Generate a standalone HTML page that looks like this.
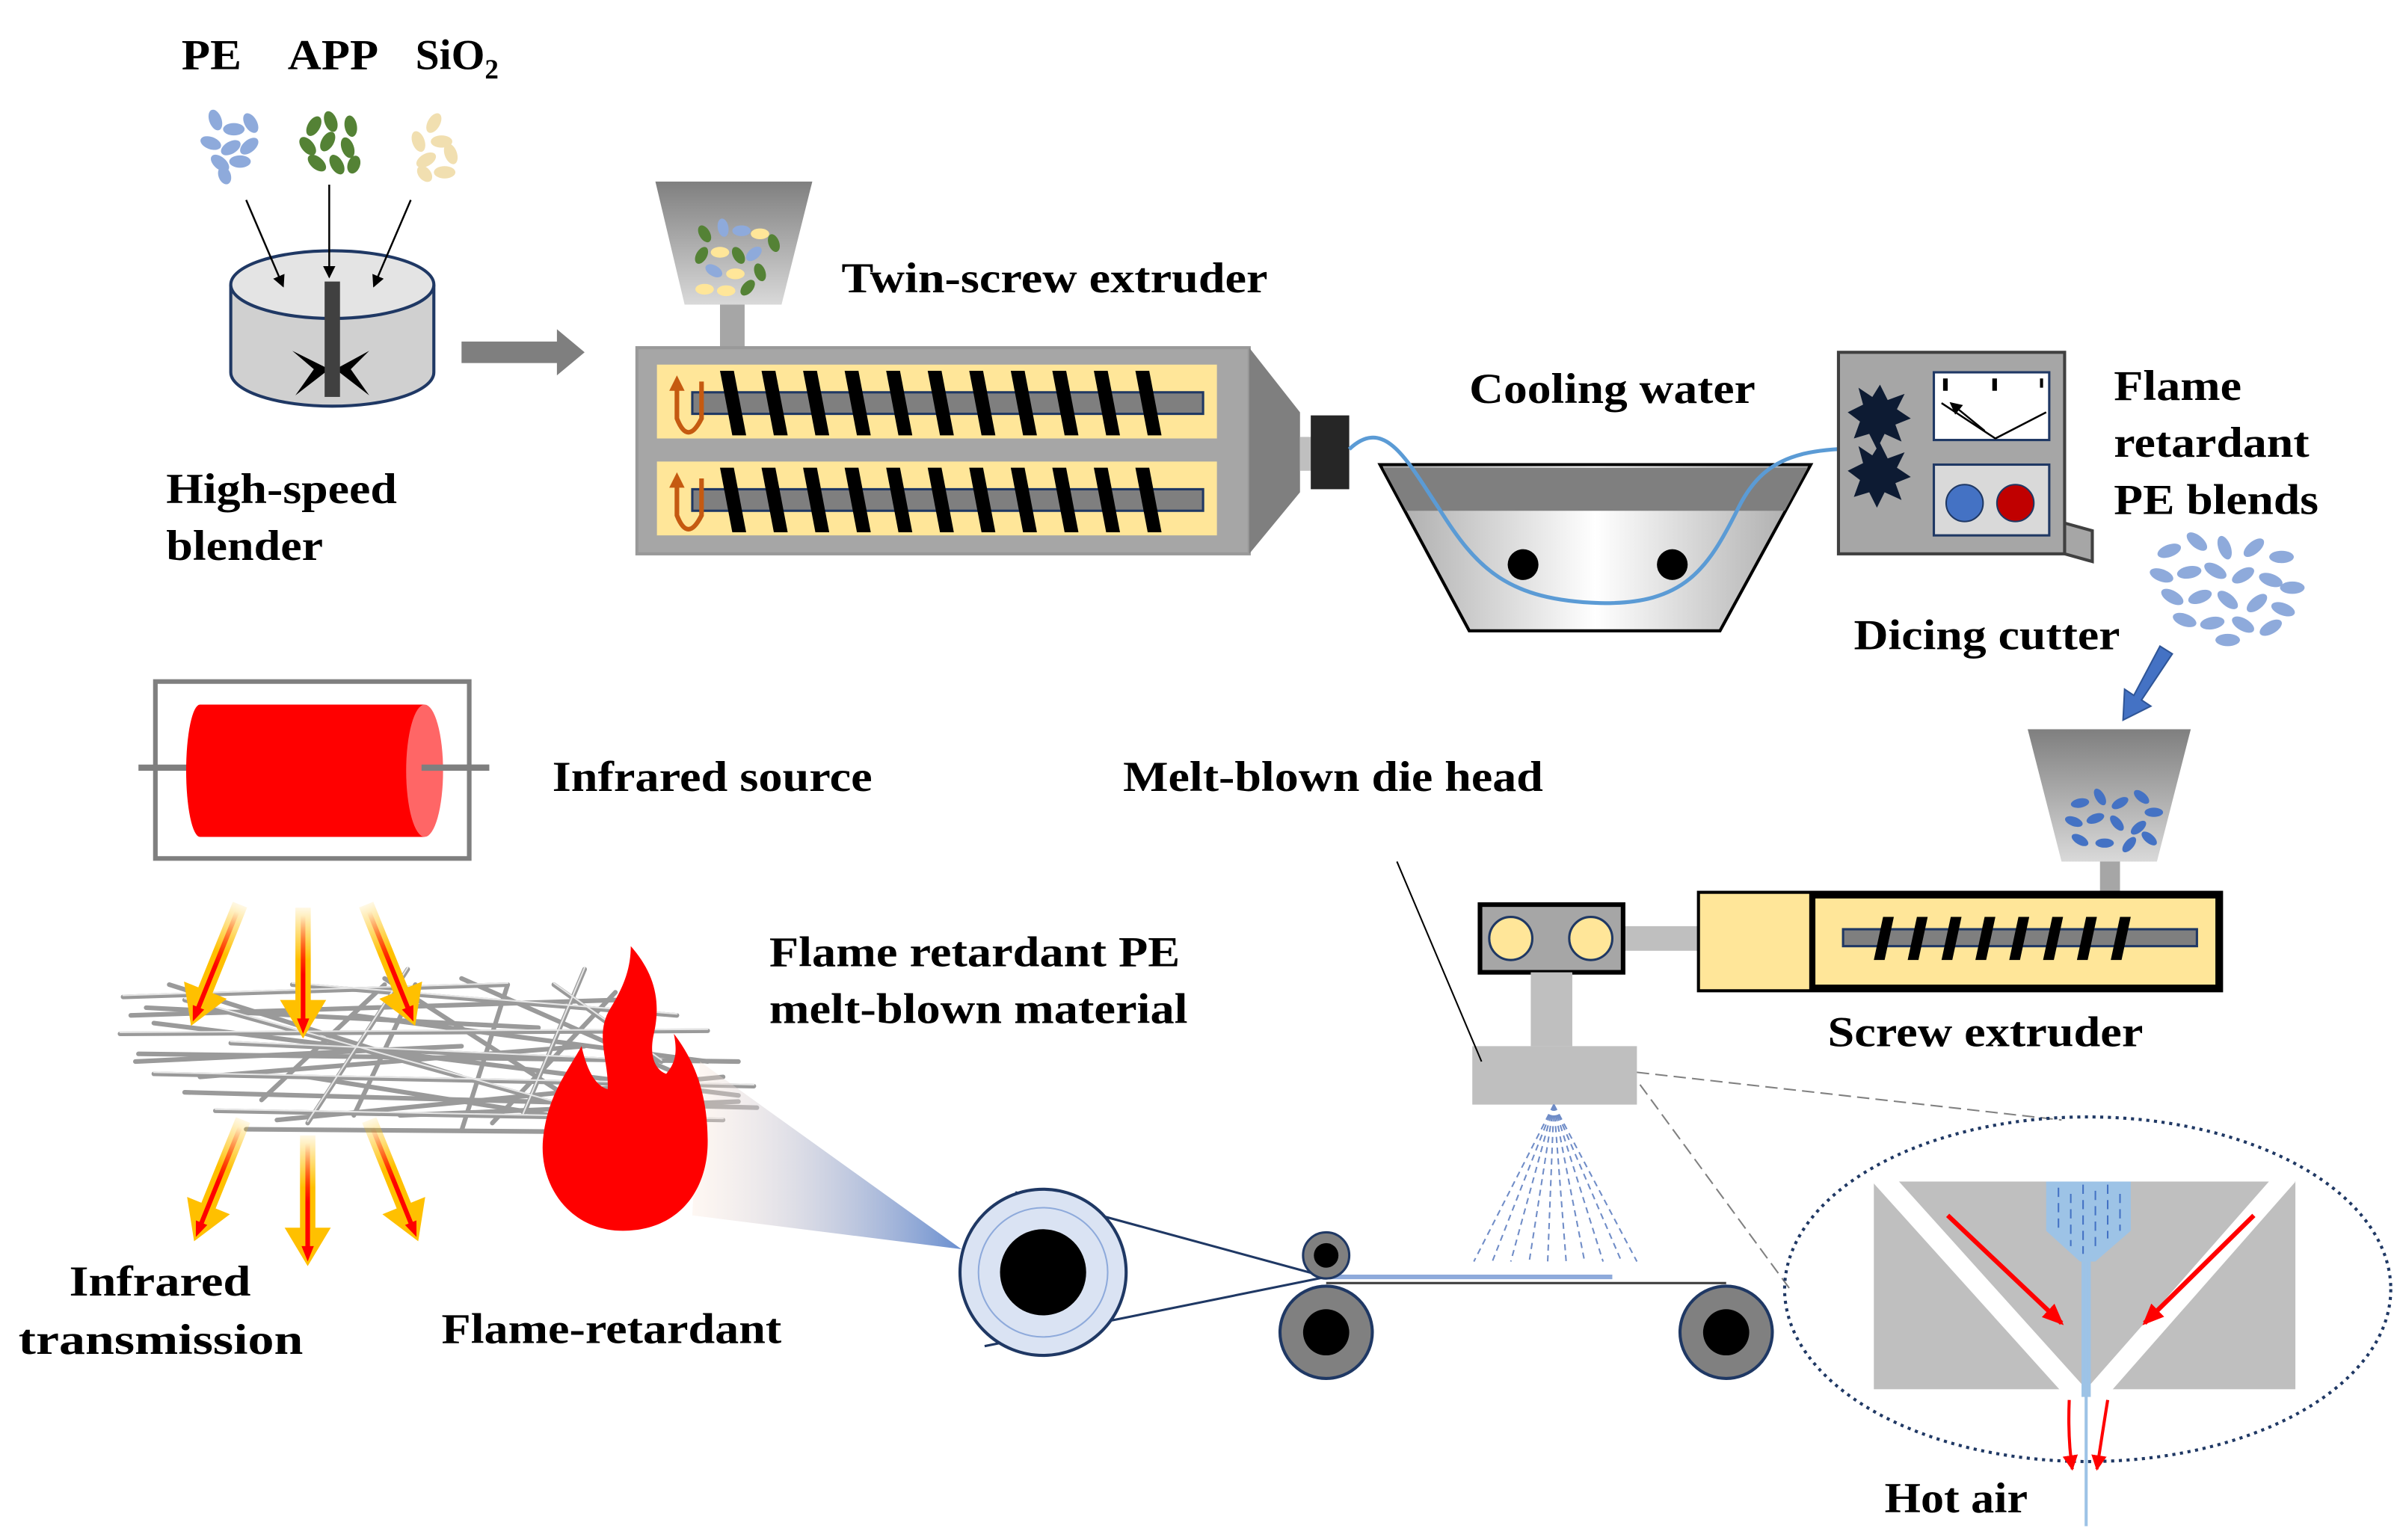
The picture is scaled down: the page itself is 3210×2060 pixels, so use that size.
<!DOCTYPE html>
<html><head><meta charset="utf-8"><style>
html,body{margin:0;padding:0;background:#fff;}
svg{display:block;}
text{font-family:"Liberation Serif",serif;font-weight:bold;fill:#000;}
</style></head><body>
<svg width="3210" height="2060" viewBox="0 0 1560 1001" preserveAspectRatio="none" xmlns="http://www.w3.org/2000/svg">
<defs>
<linearGradient id="hop" x1="0" y1="0" x2="0" y2="1"><stop offset="0" stop-color="#7f7f7f"/><stop offset="1" stop-color="#d9d9d9"/></linearGradient>
<linearGradient id="basin" x1="0" y1="0" x2="1" y2="0"><stop offset="0" stop-color="#a6a6a6"/><stop offset="0.5" stop-color="#ffffff"/><stop offset="1" stop-color="#a6a6a6"/></linearGradient>
<linearGradient id="beam" x1="0" y1="0" x2="1" y2="0"><stop offset="0" stop-color="#fbe5d6" stop-opacity="0.3"/><stop offset="1" stop-color="#6a8fd0"/></linearGradient>
<linearGradient id="ira" x1="0" y1="0" x2="0" y2="1"><stop offset="0" stop-color="#ffc000" stop-opacity="0.1"/><stop offset="0.4" stop-color="#ffc000"/><stop offset="1" stop-color="#ffc000"/></linearGradient>
<linearGradient id="irr" x1="0" y1="0" x2="0" y2="1"><stop offset="0" stop-color="#ff0000" stop-opacity="0"/><stop offset="0.5" stop-color="#ff0000"/></linearGradient>
<marker id="ah" markerWidth="8" markerHeight="8" refX="7" refY="4" orient="auto" markerUnits="userSpaceOnUse"><path d="M0,0 L8,4 L0,8z" fill="#000"/></marker>
<marker id="rh" markerWidth="14" markerHeight="12" refX="12" refY="6" orient="auto" markerUnits="userSpaceOnUse"><path d="M0,0 L14,6 L0,12z" fill="#f00"/></marker>
<marker id="rh2" markerWidth="10" markerHeight="10" refX="9" refY="5" orient="auto" markerUnits="userSpaceOnUse"><path d="M0,0 L10,5 L0,10z" fill="#f00"/></marker>
<path id="blade" d="M0,0 L9,0 L17,42 L8,42z" fill="#000"/>
<path id="sblade" d="M6,0 L13,0 L7,28 L0,28z" fill="#000"/>
<g id="irarrow">
<path d="M-5,0 L5,0 L5,60 L15,60 L0,85 L-15,60 L-5,60z" fill="url(#ira)"/>
<path d="M-1.5,5 L1.5,5 L1.5,72 L4,72 L0,82 L-4,72 L-1.5,72z" fill="url(#irr)"/>
</g>
</defs>

<!-- top labels -->
<text x="118" y="45" font-size="28" textLength="39" lengthAdjust="spacingAndGlyphs">PE</text>
<text x="187" y="45" font-size="28" textLength="59" lengthAdjust="spacingAndGlyphs">APP</text>
<text x="270" y="45" font-size="28">SiO<tspan font-size="18" dy="6">2</tspan></text>

<!-- granules -->
<g fill="#8eaadb">
<ellipse cx="140" cy="78" rx="7" ry="4" transform="rotate(70 140 78)"/><ellipse cx="152" cy="84" rx="7" ry="4"/><ellipse cx="163" cy="80" rx="7" ry="4" transform="rotate(60 163 80)"/><ellipse cx="137" cy="93" rx="7" ry="4" transform="rotate(20 137 93)"/><ellipse cx="150" cy="96" rx="7" ry="4" transform="rotate(-30 150 96)"/><ellipse cx="162" cy="95" rx="7" ry="4" transform="rotate(-40 162 95)"/><ellipse cx="143" cy="106" rx="7" ry="4" transform="rotate(40 143 106)"/><ellipse cx="156" cy="105" rx="7" ry="4"/><ellipse cx="146" cy="114" rx="6" ry="4" transform="rotate(70 146 114)"/>
</g>
<g fill="#548235">
<ellipse cx="204" cy="82" rx="7" ry="4" transform="rotate(-60 204 82)"/><ellipse cx="215" cy="79" rx="7" ry="4" transform="rotate(70 215 79)"/><ellipse cx="228" cy="82" rx="7" ry="4" transform="rotate(80 228 82)"/><ellipse cx="200" cy="95" rx="7" ry="4" transform="rotate(50 200 95)"/><ellipse cx="213" cy="92" rx="7" ry="4" transform="rotate(-60 213 92)"/><ellipse cx="226" cy="96" rx="7" ry="4" transform="rotate(70 226 96)"/><ellipse cx="206" cy="106" rx="7" ry="4" transform="rotate(40 206 106)"/><ellipse cx="219" cy="107" rx="7" ry="4" transform="rotate(60 219 107)"/><ellipse cx="230" cy="107" rx="6" ry="4" transform="rotate(-70 230 107)"/>
</g>
<g fill="#f1dfb0">
<ellipse cx="282" cy="80" rx="7" ry="4" transform="rotate(-60 282 80)"/><ellipse cx="272" cy="92" rx="7" ry="4" transform="rotate(70 272 92)"/><ellipse cx="287" cy="92" rx="7" ry="4"/><ellipse cx="293" cy="100" rx="7" ry="4" transform="rotate(70 293 100)"/><ellipse cx="277" cy="104" rx="7" ry="4" transform="rotate(-30 277 104)"/><ellipse cx="289" cy="112" rx="7" ry="4"/><ellipse cx="276" cy="113" rx="6" ry="4" transform="rotate(50 276 113)"/>
</g>

<!-- blender -->
<path d="M150,185 L150,242 A66,22 0 0 0 282,242 L282,185" fill="#d0d0d0" stroke="#1f3864" stroke-width="2"/>
<ellipse cx="216" cy="185" rx="66" ry="22" fill="#e4e4e4" stroke="#1f3864" stroke-width="2"/>
<path d="M190,228 L214,240 L192,257 L204,240z M240,228 L218,240 L240,257 L228,240z" fill="#000"/>
<rect x="211" y="183" width="10" height="75" fill="#404040"/>
<!-- blender arrows -->
<line x1="160" y1="130" x2="184" y2="186" stroke="#000" stroke-width="1.2" marker-end="url(#ah)"/>
<line x1="214" y1="120" x2="214" y2="180" stroke="#000" stroke-width="1.2" marker-end="url(#ah)"/>
<line x1="267" y1="130" x2="243" y2="186" stroke="#000" stroke-width="1.2" marker-end="url(#ah)"/>
<text x="108" y="327" font-size="28" textLength="150" lengthAdjust="spacingAndGlyphs">High-speed</text>
<text x="108" y="364" font-size="28" textLength="102" lengthAdjust="spacingAndGlyphs">blender</text>

<!-- gray arrow -->
<path d="M300,222 L362,222 L362,214 L380,229 L362,244 L362,236 L300,236z" fill="#7f7f7f"/>

<!-- hopper 1 -->
<path d="M426,118 L528,118 L508,198 L445,198z" fill="url(#hop)"/>
<rect x="468" y="198" width="16" height="28" fill="#a6a6a6"/>
<g>
<ellipse cx="458" cy="152" rx="6" ry="3.5" fill="#548235" transform="rotate(60 458 152)"/><ellipse cx="470" cy="148" rx="6" ry="3.5" fill="#8eaadb" transform="rotate(80 470 148)"/><ellipse cx="482" cy="150" rx="6" ry="3.5" fill="#8eaadb"/><ellipse cx="494" cy="152" rx="6" ry="3.5" fill="#ffe699"/><ellipse cx="503" cy="158" rx="6" ry="3.5" fill="#548235" transform="rotate(70 503 158)"/><ellipse cx="456" cy="166" rx="6" ry="3.5" fill="#548235" transform="rotate(-60 456 166)"/><ellipse cx="468" cy="164" rx="6" ry="3.5" fill="#ffe699"/><ellipse cx="480" cy="166" rx="6" ry="3.5" fill="#548235" transform="rotate(60 480 166)"/><ellipse cx="490" cy="165" rx="6" ry="3.5" fill="#8eaadb" transform="rotate(-40 490 165)"/><ellipse cx="464" cy="176" rx="6" ry="3.5" fill="#8eaadb" transform="rotate(30 464 176)"/><ellipse cx="478" cy="178" rx="6" ry="3.5" fill="#ffe699"/><ellipse cx="494" cy="177" rx="6" ry="3.5" fill="#548235" transform="rotate(70 494 177)"/><ellipse cx="458" cy="188" rx="6" ry="3.5" fill="#ffe699"/><ellipse cx="472" cy="189" rx="6" ry="3.5" fill="#ffe699"/><ellipse cx="486" cy="187" rx="6" ry="3.5" fill="#548235" transform="rotate(-50 486 187)"/>
</g>
<text x="547" y="190" font-size="28" textLength="277" lengthAdjust="spacingAndGlyphs">Twin-screw extruder</text>

<!-- extruder -->
<rect x="414" y="226" width="398" height="134" fill="#a6a6a6" stroke="#999" stroke-width="2"/>
<path d="M812,226 L845,268 L845,320 L812,360z" fill="#7f7f7f"/>
<rect x="845" y="284" width="10" height="22" fill="#bfbfbf"/>
<rect x="852" y="270" width="25" height="48" fill="#262626"/>
<rect x="427" y="237" width="364" height="48" fill="#ffe699"/>
<rect x="427" y="300" width="364" height="48" fill="#ffe699"/>
<rect x="450" y="255" width="332" height="14" fill="#7f7f7f" stroke="#1f3864" stroke-width="1.5"/>
<rect x="450" y="318" width="332" height="14" fill="#7f7f7f" stroke="#1f3864" stroke-width="1.5"/>
<g>
<use href="#blade" x="468" y="241"/><use href="#blade" x="495" y="241"/><use href="#blade" x="522" y="241"/><use href="#blade" x="549" y="241"/><use href="#blade" x="576" y="241"/><use href="#blade" x="603" y="241"/><use href="#blade" x="630" y="241"/><use href="#blade" x="657" y="241"/><use href="#blade" x="684" y="241"/><use href="#blade" x="711" y="241"/><use href="#blade" x="738" y="241"/>
<use href="#blade" x="468" y="304"/><use href="#blade" x="495" y="304"/><use href="#blade" x="522" y="304"/><use href="#blade" x="549" y="304"/><use href="#blade" x="576" y="304"/><use href="#blade" x="603" y="304"/><use href="#blade" x="630" y="304"/><use href="#blade" x="657" y="304"/><use href="#blade" x="684" y="304"/><use href="#blade" x="711" y="304"/><use href="#blade" x="738" y="304"/>
</g>
<path d="M440,250 L440,272 Q447,290 456,272 L456,248" fill="none" stroke="#c55a11" stroke-width="3"/>
<path d="M435,254 L440,244 L445,254z" fill="#c55a11"/>
<path d="M440,313 L440,335 Q447,353 456,335 L456,311" fill="none" stroke="#c55a11" stroke-width="3"/>
<path d="M435,317 L440,307 L445,317z" fill="#c55a11"/>

<!-- cooling basin -->
<path d="M897,302 L1177,302 L1118,410 L955,410z" fill="url(#basin)" stroke="#000" stroke-width="2"/>
<path d="M899,304 L1175,304 L1160,332 L914,332z" fill="#7f7f7f"/>
<circle cx="990" cy="367" r="10" fill="#000"/>
<circle cx="1087" cy="367" r="10" fill="#000"/>
<path d="M877,292 C900,270 915,300 935,330 C960,370 980,390 1040,392 C1095,393 1110,370 1130,330 C1150,290 1180,290 1250,292" fill="none" stroke="#5b9bd5" stroke-width="2.5"/>
<text x="955" y="262" font-size="28" textLength="186" lengthAdjust="spacingAndGlyphs">Cooling water</text>

<!-- dicing cutter -->
<path d="M1342,340 L1360,345 L1360,365 L1342,360z" fill="#a6a6a6" stroke="#404040" stroke-width="2"/>
<rect x="1195" y="229" width="147" height="131" fill="#a6a6a6" stroke="#404040" stroke-width="2"/>
<rect x="1257" y="242" width="75" height="44" fill="#fff" stroke="#1f3864" stroke-width="1.5"/>
<path d="M1262,262 L1297,285 L1330,268" fill="none" stroke="#000" stroke-width="1.2"/>
<line x1="1290" y1="280" x2="1268" y2="262" stroke="#000" stroke-width="1.2" marker-end="url(#ah)"/>
<rect x="1263" y="246" width="3" height="8" fill="#000"/><rect x="1295" y="246" width="3" height="8" fill="#000"/><rect x="1326" y="246" width="2" height="6" fill="#000"/>
<rect x="1257" y="302" width="75" height="46" fill="#d9d9d9" stroke="#1f3864" stroke-width="1.5"/>
<circle cx="1277" cy="327" r="12" fill="#4472c4" stroke="#1f3864"/>
<circle cx="1310" cy="327" r="12" fill="#c00000" stroke="#1f3864"/>
<path d="M1222,250 L1227,260 L1238,256 L1233,266 L1242,272 L1232,276 L1236,287 L1225,282 L1220,292 L1215,282 L1205,285 L1209,274 L1201,268 L1211,263 L1208,252 L1217,258z" fill="#0d1b33"/>
<path d="M1222,288 L1227,298 L1238,294 L1233,304 L1242,310 L1232,314 L1236,325 L1225,320 L1220,330 L1215,320 L1205,323 L1209,312 L1201,306 L1211,301 L1208,290 L1217,296z" fill="#0d1b33"/>
<text x="1374" y="260" font-size="28" textLength="83" lengthAdjust="spacingAndGlyphs">Flame</text>
<text x="1374" y="297" font-size="28" textLength="127" lengthAdjust="spacingAndGlyphs">retardant</text>
<text x="1374" y="334" font-size="28" textLength="133" lengthAdjust="spacingAndGlyphs">PE blends</text>
<text x="1205" y="422" font-size="28" textLength="173" lengthAdjust="spacingAndGlyphs">Dicing cutter</text>

<!-- blue granules -->
<g fill="#8eaadb">
<ellipse cx="1410" cy="358" rx="8" ry="4" transform="rotate(-20 1410 358)"/><ellipse cx="1428" cy="352" rx="8" ry="4" transform="rotate(40 1428 352)"/><ellipse cx="1446" cy="356" rx="8" ry="4" transform="rotate(70 1446 356)"/><ellipse cx="1465" cy="356" rx="8" ry="4" transform="rotate(-40 1465 356)"/><ellipse cx="1483" cy="362" rx="8" ry="4"/><ellipse cx="1405" cy="374" rx="8" ry="4" transform="rotate(20 1405 374)"/><ellipse cx="1423" cy="372" rx="8" ry="4" transform="rotate(-10 1423 372)"/><ellipse cx="1440" cy="371" rx="8" ry="4" transform="rotate(30 1440 371)"/><ellipse cx="1458" cy="374" rx="8" ry="4" transform="rotate(-30 1458 374)"/><ellipse cx="1476" cy="377" rx="8" ry="4" transform="rotate(20 1476 377)"/><ellipse cx="1490" cy="382" rx="8" ry="4"/><ellipse cx="1412" cy="388" rx="8" ry="4" transform="rotate(30 1412 388)"/><ellipse cx="1430" cy="388" rx="8" ry="4" transform="rotate(-20 1430 388)"/><ellipse cx="1448" cy="390" rx="8" ry="4" transform="rotate(40 1448 390)"/><ellipse cx="1467" cy="392" rx="8" ry="4" transform="rotate(-40 1467 392)"/><ellipse cx="1484" cy="396" rx="8" ry="4" transform="rotate(20 1484 396)"/><ellipse cx="1420" cy="403" rx="8" ry="4" transform="rotate(20 1420 403)"/><ellipse cx="1438" cy="405" rx="8" ry="4" transform="rotate(-10 1438 405)"/><ellipse cx="1458" cy="406" rx="8" ry="4" transform="rotate(30 1458 406)"/><ellipse cx="1476" cy="408" rx="8" ry="4" transform="rotate(-30 1476 408)"/><ellipse cx="1448" cy="416" rx="8" ry="4"/>
</g>
<path d="M1404,420 L1412,425 L1392,455 L1398,459 L1380,468 L1381,448 L1387,452z" fill="#4472c4" stroke="#2f5597" stroke-width="1"/>

<!-- hopper 2 -->
<path d="M1318,474 L1424,474 L1402,560 L1340,560z" fill="url(#hop)"/>
<rect x="1365" y="560" width="13" height="20" fill="#a6a6a6"/>
<g fill="#4472c4">
<ellipse cx="1352" cy="522" rx="6" ry="3" transform="rotate(-10 1352 522)"/><ellipse cx="1365" cy="518" rx="6" ry="3" transform="rotate(60 1365 518)"/><ellipse cx="1378" cy="522" rx="6" ry="3" transform="rotate(-30 1378 522)"/><ellipse cx="1392" cy="518" rx="6" ry="3" transform="rotate(40 1392 518)"/><ellipse cx="1400" cy="528" rx="6" ry="3"/><ellipse cx="1348" cy="534" rx="6" ry="3" transform="rotate(20 1348 534)"/><ellipse cx="1362" cy="532" rx="6" ry="3" transform="rotate(-20 1362 532)"/><ellipse cx="1376" cy="535" rx="6" ry="3" transform="rotate(50 1376 535)"/><ellipse cx="1390" cy="538" rx="6" ry="3" transform="rotate(-40 1390 538)"/><ellipse cx="1352" cy="546" rx="6" ry="3" transform="rotate(30 1352 546)"/><ellipse cx="1368" cy="548" rx="6" ry="3"/><ellipse cx="1384" cy="549" rx="6" ry="3" transform="rotate(-50 1384 549)"/><ellipse cx="1397" cy="545" rx="6" ry="3" transform="rotate(40 1397 545)"/>
</g>

<!-- screw extruder -->
<rect x="1055" y="602" width="50" height="16" fill="#bfbfbf"/>
<rect x="1104" y="580" width="340" height="64" fill="#ffe699" stroke="#000" stroke-width="2"/>
<rect x="1178" y="582" width="264" height="60" fill="#ffe699" stroke="#000" stroke-width="4"/>
<rect x="1198" y="604" width="230" height="11" fill="#7f7f7f" stroke="#1f3864" stroke-width="1.5"/>
<g>
<use href="#sblade" x="1218" y="596"/><use href="#sblade" x="1240" y="596"/><use href="#sblade" x="1262" y="596"/><use href="#sblade" x="1284" y="596"/><use href="#sblade" x="1306" y="596"/><use href="#sblade" x="1328" y="596"/><use href="#sblade" x="1350" y="596"/><use href="#sblade" x="1372" y="596"/>
</g>
<text x="1188" y="680" font-size="28" textLength="205" lengthAdjust="spacingAndGlyphs">Screw extruder</text>

<!-- die -->
<rect x="962" y="588" width="93" height="44" fill="#a6a6a6" stroke="#000" stroke-width="3"/>
<circle cx="982" cy="610" r="14" fill="#ffe699" stroke="#1f3864" stroke-width="1.5"/>
<circle cx="1034" cy="610" r="14" fill="#ffe699" stroke="#1f3864" stroke-width="1.5"/>
<rect x="995" y="632" width="27" height="48" fill="#bfbfbf"/>
<rect x="957" y="680" width="107" height="38" fill="#bfbfbf"/>
<line x1="908" y1="560" x2="963" y2="690" stroke="#000" stroke-width="1"/>
<text x="730" y="514" font-size="28" textLength="273" lengthAdjust="spacingAndGlyphs">Melt-blown die head</text>

<!-- spray -->
<g stroke="#6f8cc7" stroke-width="1" stroke-dasharray="4,3" fill="none">
<line x1="1010" y1="718" x2="958" y2="820"/><line x1="1010" y1="718" x2="970" y2="820"/><line x1="1010" y1="718" x2="982" y2="820"/><line x1="1010" y1="718" x2="994" y2="820"/><line x1="1010" y1="718" x2="1006" y2="820"/><line x1="1010" y1="718" x2="1018" y2="820"/><line x1="1010" y1="718" x2="1030" y2="820"/><line x1="1010" y1="718" x2="1042" y2="820"/><line x1="1010" y1="718" x2="1054" y2="820"/><line x1="1010" y1="718" x2="1064" y2="820"/>
</g>

<!-- dashed zoom lines -->
<line x1="1064" y1="697" x2="1340" y2="728" stroke="#808080" stroke-width="1" stroke-dasharray="8,4"/>
<line x1="1066" y1="705" x2="1165" y2="840" stroke="#808080" stroke-width="1" stroke-dasharray="8,4"/>

<!-- conveyor -->
<line x1="862" y1="834" x2="1122" y2="834" stroke="#404040" stroke-width="1.5"/>
<line x1="862" y1="830" x2="1048" y2="830" stroke="#8eaadb" stroke-width="3"/>
<path d="M660,775 L862,830 M640,875 L862,830" stroke="#1f3864" stroke-width="1.5" fill="none"/>
<circle cx="678" cy="827" r="54" fill="#dae3f3" stroke="#1f3864" stroke-width="2"/>
<circle cx="678" cy="827" r="42" fill="none" stroke="#8eaadb" stroke-width="1"/>
<circle cx="678" cy="827" r="28" fill="#000"/>
<circle cx="862" cy="816" r="15" fill="#808080" stroke="#1f3864" stroke-width="1.5"/>
<circle cx="862" cy="816" r="8" fill="#000"/>
<circle cx="862" cy="866" r="30" fill="#808080" stroke="#1f3864" stroke-width="2"/>
<circle cx="862" cy="866" r="15" fill="#000"/>
<circle cx="1122" cy="866" r="30" fill="#808080" stroke="#1f3864" stroke-width="2"/>
<circle cx="1122" cy="866" r="15" fill="#000"/>

<!-- zoom ellipse -->
<ellipse cx="1357" cy="838" rx="197" ry="112" fill="none" stroke="#1f3864" stroke-width="2" stroke-dasharray="2,3"/>
<rect x="1218" y="768" width="274" height="135" fill="#bfbfbf"/>
<line x1="1222" y1="764" x2="1350" y2="906" stroke="#fff" stroke-width="13"/>
<line x1="1487" y1="764" x2="1362" y2="906" stroke="#fff" stroke-width="13"/>
<path d="M1330,768 L1385,768 L1385,800 L1362,820 L1352,820 L1330,800z" fill="#9dc3e6"/>
<g stroke="#4472c4" stroke-width="1" stroke-dasharray="6,4">
<line x1="1338" y1="772" x2="1338" y2="800"/><line x1="1346" y1="776" x2="1346" y2="810"/><line x1="1354" y1="770" x2="1354" y2="815"/><line x1="1362" y1="774" x2="1362" y2="812"/><line x1="1370" y1="770" x2="1370" y2="805"/><line x1="1378" y1="776" x2="1378" y2="800"/>
</g>
<rect x="1353" y="818" width="6" height="90" fill="#9dc3e6"/>
<line x1="1356" y1="820" x2="1356" y2="992" stroke="#9dc3e6" stroke-width="2"/>
<line x1="1266" y1="790" x2="1340" y2="860" stroke="#f00" stroke-width="3" marker-end="url(#rh)"/>
<line x1="1465" y1="790" x2="1394" y2="860" stroke="#f00" stroke-width="3" marker-end="url(#rh)"/>
<path d="M1345,910 Q1344,935 1347,955" fill="none" stroke="#f00" stroke-width="2" marker-end="url(#rh2)"/>
<path d="M1370,910 Q1366,935 1363,955" fill="none" stroke="#f00" stroke-width="2" marker-end="url(#rh2)"/>
<text x="1225" y="983" font-size="28" textLength="93" lengthAdjust="spacingAndGlyphs">Hot air</text>

<!-- infrared source -->
<rect x="101" y="443" width="204" height="115" fill="#fff" stroke="#7f7f7f" stroke-width="3"/>
<line x1="90" y1="499" x2="318" y2="499" stroke="#7f7f7f" stroke-width="4"/>
<path d="M130,458 L276,458 L276,544 L130,544 A9,43 0 0 1 130,458z" fill="#f00"/>
<ellipse cx="276" cy="501" rx="12" ry="43" fill="#ff6666"/>
<line x1="274" y1="499" x2="318" y2="499" stroke="#7f7f7f" stroke-width="4"/>
<text x="359" y="514" font-size="28" textLength="208" lengthAdjust="spacingAndGlyphs">Infrared source</text>

<!-- mesh -->
<g stroke="#9a9a9a" stroke-width="3" stroke-linecap="round">
<line x1="80" y1="648" x2="330" y2="640"/><line x1="85" y1="660" x2="400" y2="650"/><line x1="78" y1="672" x2="460" y2="670"/><line x1="90" y1="685" x2="480" y2="690"/><line x1="100" y1="698" x2="490" y2="706"/><line x1="120" y1="710" x2="492" y2="720"/><line x1="140" y1="722" x2="470" y2="728"/><line x1="160" y1="734" x2="420" y2="736"/><line x1="190" y1="640" x2="440" y2="660"/><line x1="100" y1="665" x2="480" y2="712"/><line x1="120" y1="650" x2="400" y2="728"/><line x1="250" y1="636" x2="380" y2="720"/><line x1="300" y1="636" x2="445" y2="700"/><line x1="170" y1="715" x2="250" y2="640"/><line x1="200" y1="730" x2="265" y2="630"/><line x1="300" y1="735" x2="330" y2="640"/><line x1="340" y1="725" x2="380" y2="630"/><line x1="230" y1="660" x2="460" y2="690"/><line x1="88" y1="690" x2="300" y2="680"/><line x1="150" y1="678" x2="420" y2="690"/><line x1="260" y1="725" x2="480" y2="716"/><line x1="360" y1="640" x2="430" y2="690"/><line x1="110" y1="640" x2="300" y2="700"/><line x1="200" y1="700" x2="440" y2="738"/><line x1="95" y1="655" x2="350" y2="668"/><line x1="130" y1="700" x2="380" y2="680"/><line x1="180" y1="728" x2="470" y2="700"/><line x1="270" y1="640" x2="230" y2="725"/><line x1="400" y1="645" x2="320" y2="730"/>
</g>
<g stroke="#e6e6e6" stroke-width="1" stroke-linecap="round">
<line x1="80" y1="647" x2="330" y2="639"/><line x1="78" y1="671" x2="460" y2="669"/><line x1="100" y1="697" x2="490" y2="705"/><line x1="140" y1="721" x2="470" y2="727"/><line x1="190" y1="639" x2="440" y2="659"/><line x1="120" y1="649" x2="400" y2="727"/><line x1="200" y1="729" x2="265" y2="629"/><line x1="340" y1="724" x2="380" y2="629"/><line x1="150" y1="677" x2="420" y2="689"/><line x1="360" y1="639" x2="430" y2="689"/>
</g>

<!-- IR arrows -->
<use href="#irarrow" transform="translate(156,588) rotate(22)"/>
<use href="#irarrow" transform="translate(197,590)"/>
<use href="#irarrow" transform="translate(238,588) rotate(-22)"/>
<use href="#irarrow" transform="translate(158,728) rotate(22)"/>
<use href="#irarrow" transform="translate(200,738)"/>
<use href="#irarrow" transform="translate(240,728) rotate(-22)"/>

<!-- beam -->
<path d="M455,690 L625,812 L450,790z" fill="url(#beam)"/>
<!-- flame -->
<path d="M405,800 C370,800 350,770 353,740 C356,712 368,698 378,680 C382,698 388,706 395,708 C396,690 386,672 397,655 C405,642 410,630 410,615 C425,632 430,650 425,672 C422,685 425,695 433,698 C440,690 440,682 438,672 C452,690 460,712 460,742 C460,775 440,800 405,800z" fill="#f00"/>
<text x="500" y="628" font-size="28" textLength="267" lengthAdjust="spacingAndGlyphs">Flame retardant PE</text>
<text x="500" y="665" font-size="28" textLength="272" lengthAdjust="spacingAndGlyphs">melt-blown material</text>
<text x="45" y="842" font-size="28" textLength="118" lengthAdjust="spacingAndGlyphs">Infrared</text>
<text x="12" y="880" font-size="28" textLength="185" lengthAdjust="spacingAndGlyphs">transmission</text>
<text x="287" y="873" font-size="28" textLength="221" lengthAdjust="spacingAndGlyphs">Flame-retardant</text>
</svg>
</body></html>
